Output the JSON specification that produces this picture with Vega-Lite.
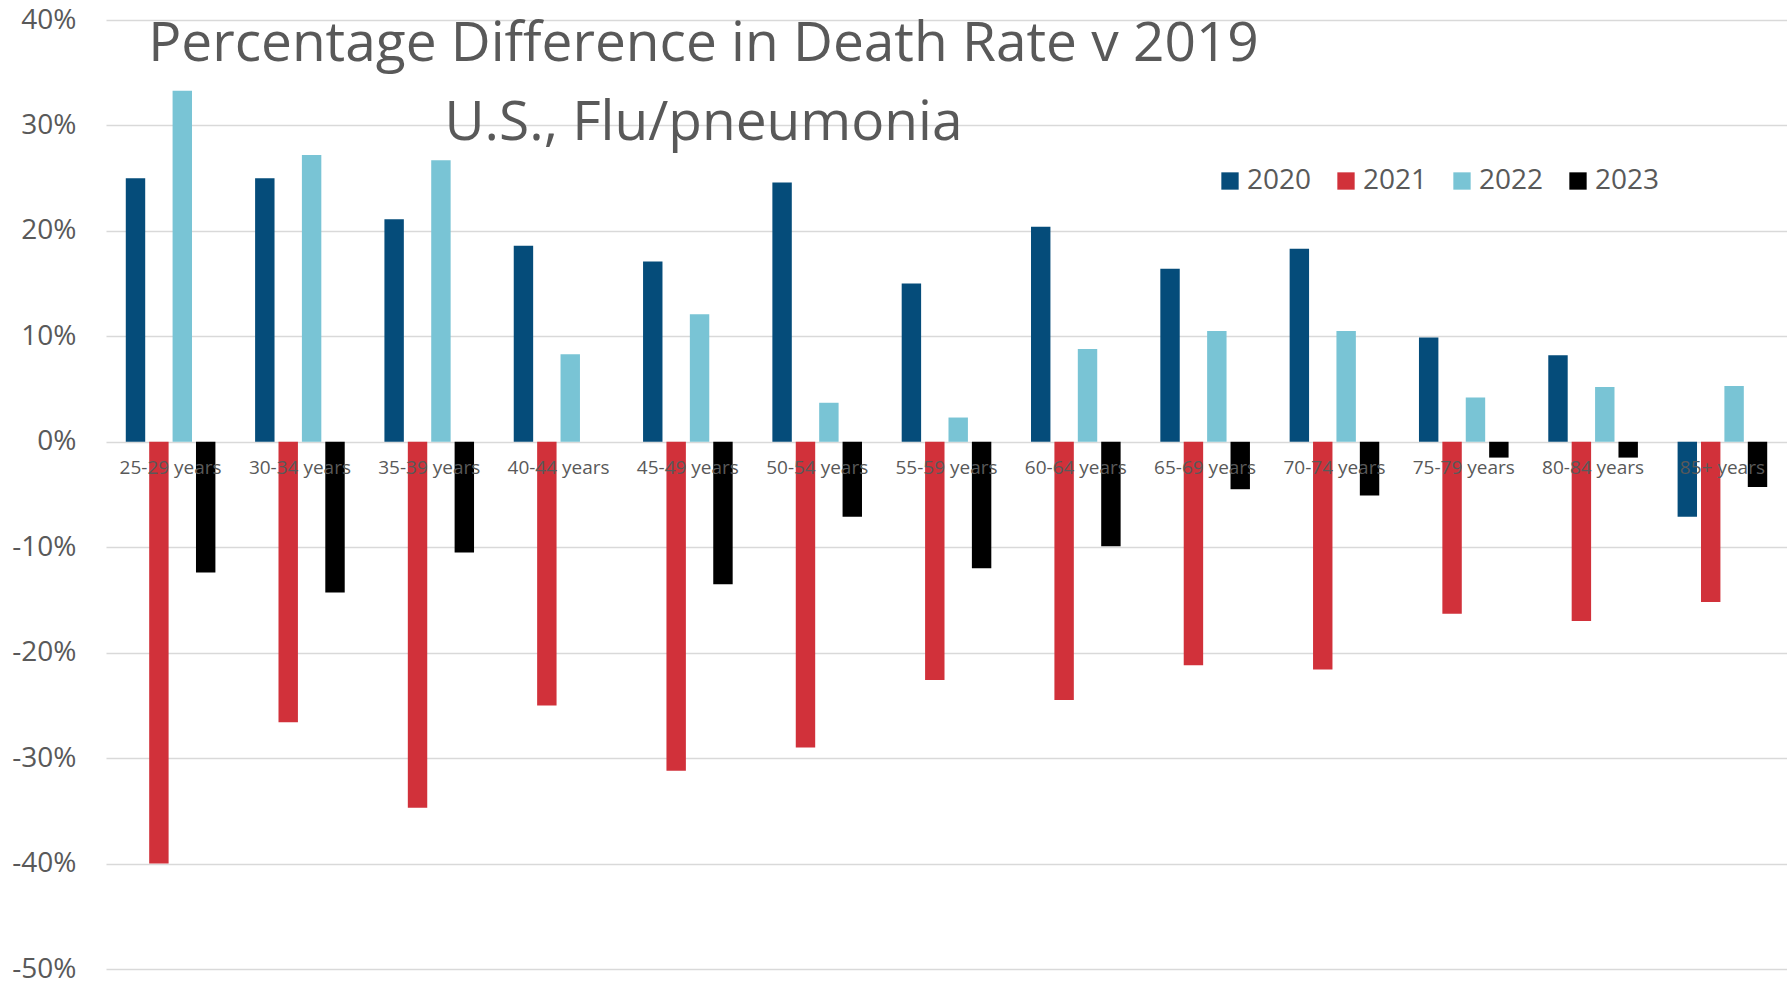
{
  "$schema": "https://vega.github.io/schema/vega-lite/v6.json",
  "width": 1681,
  "height": 949,
  "autosize": {"type": "none"},
  "padding": {"left": 106, "top": 20, "right": 0, "bottom": 15},
  "background": "white",
  "config": {"view": {"stroke": null}, "font": "Open Sans"},
  "title": {
    "text": ["Percentage Difference in Death Rate v 2019", "U.S., Flu/pneumonia"],
    "fontSize": 55,
    "font": "Open Sans",
    "fontWeight": "normal",
    "color": "#595959",
    "anchor": "middle",
    "lineHeight": 79,
    "dx": -243,
    "dy": 150,
    "baseline": "top"
  },
  "data": {
    "values": [
      {"age": "25-29 years", "year": "2020", "value": 0.250},
      {"age": "25-29 years", "year": "2021", "value": -0.400},
      {"age": "25-29 years", "year": "2022", "value": 0.333},
      {"age": "25-29 years", "year": "2023", "value": -0.124},
      {"age": "30-34 years", "year": "2020", "value": 0.250},
      {"age": "30-34 years", "year": "2021", "value": -0.266},
      {"age": "30-34 years", "year": "2022", "value": 0.272},
      {"age": "30-34 years", "year": "2023", "value": -0.143},
      {"age": "35-39 years", "year": "2020", "value": 0.211},
      {"age": "35-39 years", "year": "2021", "value": -0.347},
      {"age": "35-39 years", "year": "2022", "value": 0.267},
      {"age": "35-39 years", "year": "2023", "value": -0.105},
      {"age": "40-44 years", "year": "2020", "value": 0.186},
      {"age": "40-44 years", "year": "2021", "value": -0.250},
      {"age": "40-44 years", "year": "2022", "value": 0.083},
      {"age": "40-44 years", "year": "2023", "value": 0.0},
      {"age": "45-49 years", "year": "2020", "value": 0.171},
      {"age": "45-49 years", "year": "2021", "value": -0.312},
      {"age": "45-49 years", "year": "2022", "value": 0.121},
      {"age": "45-49 years", "year": "2023", "value": -0.135},
      {"age": "50-54 years", "year": "2020", "value": 0.246},
      {"age": "50-54 years", "year": "2021", "value": -0.290},
      {"age": "50-54 years", "year": "2022", "value": 0.037},
      {"age": "50-54 years", "year": "2023", "value": -0.071},
      {"age": "55-59 years", "year": "2020", "value": 0.150},
      {"age": "55-59 years", "year": "2021", "value": -0.226},
      {"age": "55-59 years", "year": "2022", "value": 0.023},
      {"age": "55-59 years", "year": "2023", "value": -0.120},
      {"age": "60-64 years", "year": "2020", "value": 0.204},
      {"age": "60-64 years", "year": "2021", "value": -0.245},
      {"age": "60-64 years", "year": "2022", "value": 0.088},
      {"age": "60-64 years", "year": "2023", "value": -0.099},
      {"age": "65-69 years", "year": "2020", "value": 0.164},
      {"age": "65-69 years", "year": "2021", "value": -0.212},
      {"age": "65-69 years", "year": "2022", "value": 0.105},
      {"age": "65-69 years", "year": "2023", "value": -0.045},
      {"age": "70-74 years", "year": "2020", "value": 0.183},
      {"age": "70-74 years", "year": "2021", "value": -0.216},
      {"age": "70-74 years", "year": "2022", "value": 0.105},
      {"age": "70-74 years", "year": "2023", "value": -0.051},
      {"age": "75-79 years", "year": "2020", "value": 0.099},
      {"age": "75-79 years", "year": "2021", "value": -0.163},
      {"age": "75-79 years", "year": "2022", "value": 0.042},
      {"age": "75-79 years", "year": "2023", "value": -0.015},
      {"age": "80-84 years", "year": "2020", "value": 0.082},
      {"age": "80-84 years", "year": "2021", "value": -0.170},
      {"age": "80-84 years", "year": "2022", "value": 0.052},
      {"age": "80-84 years", "year": "2023", "value": -0.015},
      {"age": "85+ years", "year": "2020", "value": -0.071},
      {"age": "85+ years", "year": "2021", "value": -0.152},
      {"age": "85+ years", "year": "2022", "value": 0.053},
      {"age": "85+ years", "year": "2023", "value": -0.043}
    ]
  },
  "layer": [
    {
      "mark": {"type": "bar"},
      "encoding": {
        "x": {
          "field": "age",
          "type": "nominal",
          "sort": null,
          "scale": {"paddingInner": 0.307, "paddingOuter": 0.153},
          "axis": null
        },
        "xOffset": {
          "field": "year",
          "type": "nominal",
          "scale": {"paddingInner": 0.17, "paddingOuter": 0}
        },
        "y": {
          "field": "value",
          "type": "quantitative",
          "scale": {"domain": [-0.5, 0.4], "nice": false, "zero": false},
          "axis": {
            "title": null,
            "format": ".0%",
            "labelExpr": "replace(datum.label, '\u2212', '-')",
            "values": [-0.5, -0.4, -0.3, -0.2, -0.1, 0, 0.1, 0.2, 0.3, 0.4],
            "domain": false,
            "ticks": false,
            "labelFontSize": 28,
            "labelColor": "#595959",
            "labelPadding": 30,
            "gridColor": "#d9d9d9",
            "gridWidth": 1.5
          }
        },
        "color": {
          "field": "year",
          "type": "nominal",
          "scale": {
            "domain": ["2020", "2021", "2022", "2023"],
            "range": ["#054c7a", "#d1313a", "#79c4d5", "#000000"]
          },
          "legend": {
            "title": null,
            "orient": "none",
            "direction": "horizontal",
            "legendX": 1110,
            "legendY": 147,
            "symbolType": "square",
            "symbolSize": 300,
            "symbolStrokeWidth": 0,
            "labelFontSize": 28,
            "labelColor": "#595959",
            "labelOffset": 3,
            "columnPadding": 20
          }
        }
      }
    },
    {
      "transform": [{"filter": "datum.year == '2020'"}],
      "mark": {"type": "text", "fontSize": 19, "color": "#595959", "baseline": "middle", "dy": 26},
      "encoding": {
        "x": {"field": "age", "type": "nominal", "sort": null},
        "y": {"datum": 0},
        "text": {"field": "age"}
      }
    }
  ]
}
